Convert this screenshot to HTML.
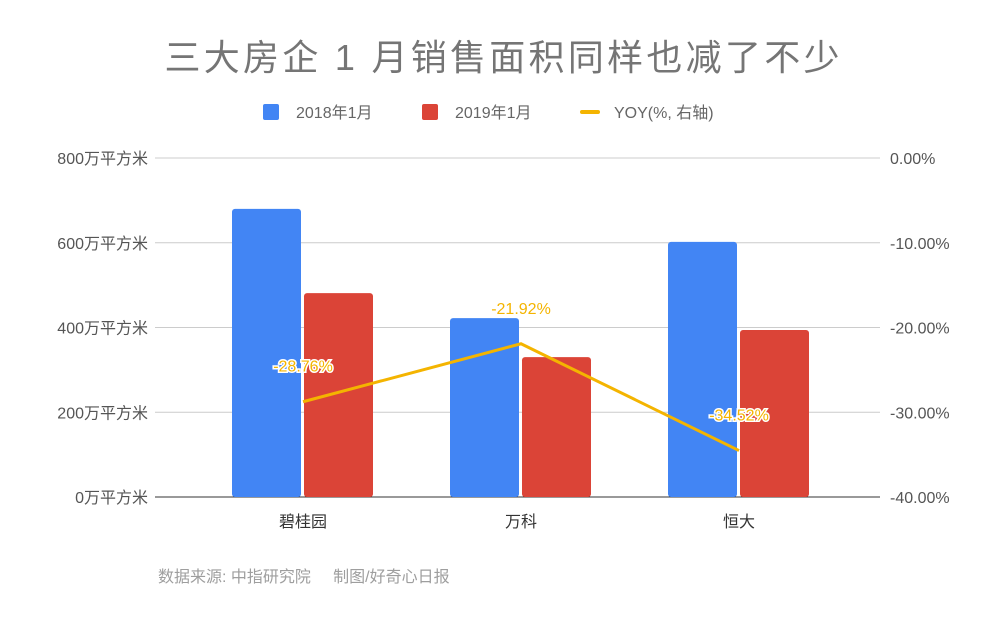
<!DOCTYPE html>
<html><head><meta charset="utf-8"><style>
body{margin:0;background:#fff;width:1000px;height:619px;overflow:hidden;font-family:"Liberation Sans","Noto Sans CJK SC",sans-serif}
</style></head><body>
<svg width="1000" height="619" font-family="Liberation Sans, Noto Sans CJK SC, sans-serif">
<text x="502" y="70" text-anchor="middle" font-size="36" fill="#757575" textLength="675">三大房企 1 月销售面积同样也减了不少</text>
<g font-size="16" fill="#666">
<rect x="263" y="104" width="16" height="16" rx="2" fill="#4285f4"/>
<text x="296" y="118">2018年1月</text>
<rect x="422" y="104" width="16" height="16" rx="2" fill="#db4437"/>
<text x="455" y="118">2019年1月</text>
<rect x="580" y="110" width="20" height="4" rx="2" fill="#f4b400"/>
<text x="614" y="118">YOY(%, 右轴)</text>
</g>
<g id="grid"></g><g id="bars"></g><g id="line"></g>
<text x="158" y="582" font-size="16" fill="#9e9e9e">数据来源: 中指研究院 &#160;&#160;&#160;&#160;制图/好奇心日报</text>
</svg>
<script>
const categories=["碧桂园","万科","恒大"];
const sales2018=[680,422,602];
const sales2019=[481,330,394];
const yoy=[-28.76,-21.92,-34.52];
const leftTicks=[0,200,400,600,800];
const rightTicks=[0,-10,-20,-30,-40];
const NS="http://www.w3.org/2000/svg";
const yTop=158,yBot=497,x0=194,band=218;
const yL=v=>yBot-(v/800)*(yBot-yTop);
const yR=v=>yTop+(-v/40)*(yBot-yTop);
const xC=i=>x0+band*(i+0.5);
function mk(t,a,p){const e=document.createElementNS(NS,t);for(const k in a)e.setAttribute(k,a[k]);p.appendChild(e);return e;}
const g=document.getElementById('grid'),b=document.getElementById('bars'),l=document.getElementById('line');
leftTicks.forEach((v)=>{
 const y=yL(v);
 const ln=mk('line',{x1:155,x2:880,y1:y,y2:y,stroke:v==0?'#333':'#ccc','stroke-width':1},g);
 
 
 const t=mk('text',{x:148,y:y+6,'text-anchor':'end','font-size':16,fill:'#555'},g);
 t.textContent=v+'万平方米';
 
 
});
rightTicks.forEach(v=>{
 const t=mk('text',{x:890,y:yR(v)+6,'font-size':16,fill:'#555'},g);
 t.textContent=v.toFixed(2)+'%';
 
 
});
categories.forEach((c,i)=>{
 const cx=xC(i);
 const r1=mk('rect',{x:cx-71,y:yL(sales2018[i]),width:69,height:yBot-yL(sales2018[i]),rx:3,fill:'#4285f4'},b);
 
 
 const r2=mk('rect',{x:cx+1,y:yL(sales2019[i]),width:69,height:yBot-yL(sales2019[i]),rx:3,fill:'#db4437'},b);
 
 
 const t=mk('text',{x:cx,y:527,'text-anchor':'middle','font-size':16,fill:'#333'},b);
 t.textContent=c;
 
 
});
const pl=mk('polyline',{points:yoy.map((v,i)=>xC(i)+','+yR(v)).join(' '),fill:'none',stroke:'#f4b400','stroke-width':3},l);


yoy.forEach((v,i)=>{
 const t=mk('text',{x:xC(i),y:yR(v)-30,'text-anchor':'middle','font-size':16,fill:'#f4b400',stroke:'#fff','stroke-width':3,'paint-order':'stroke'},l);
 t.textContent=v.toFixed(2)+'%';
 
 
});
</script>
</body></html>
